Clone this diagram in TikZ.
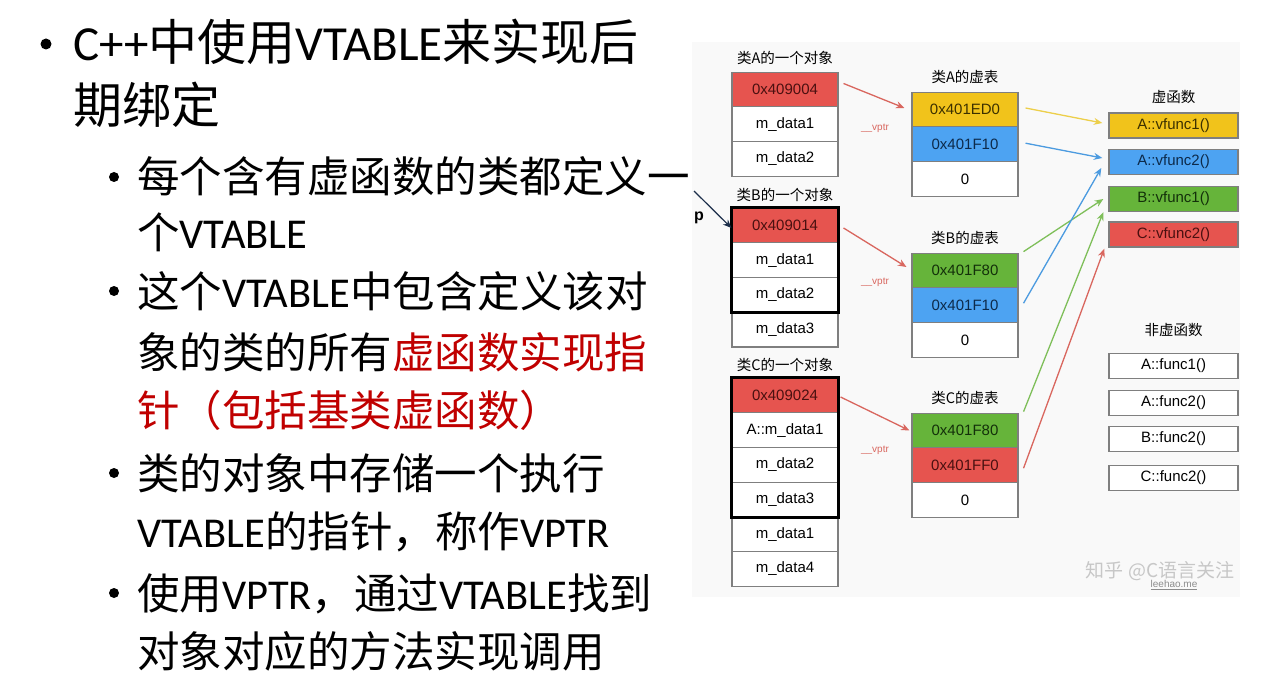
\documentclass[tikz,border=0pt]{standalone}
\usepackage{fontspec}
\usetikzlibrary{arrows.meta}
\setmainfont{Carlito}
\newfontfamily\cjkfont{Noto Sans CJK SC}
\newfontfamily\arialfont{Liberation Sans}
\newcommand{\zhtxt}[1]{{\cjkfont #1}}
\newcommand{\lvlone}{\fontsize{49}{58}\selectfont}
\newcommand{\lvltwo}{\fontsize{42.5}{50}\selectfont}
\newcommand{\cellfont}{\arialfont\fontsize{15}{17}\selectfont}
\newcommand{\capfont}{\cjkfont\fontsize{14.5}{16}\selectfont}

\definecolor{boxgray}{HTML}{7F7F7F}
\definecolor{diagbg}{HTML}{F9F9F9}
\definecolor{cellred}{HTML}{E6544F}
\definecolor{cellyellow}{HTML}{F1C31B}
\definecolor{cellblue}{HTML}{4DA3F2}
\definecolor{cellgreen}{HTML}{66B43A}
\definecolor{txtred}{HTML}{4A1010}
\definecolor{txtyellow}{HTML}{3B3000}
\definecolor{txtblue}{HTML}{0D2A4A}
\definecolor{txtgreen}{HTML}{13300A}
\definecolor{arrred}{HTML}{D9675F}
\definecolor{arryellow}{HTML}{EDCF4A}
\definecolor{arrblue}{HTML}{4C9BE0}
\definecolor{arrgreen}{HTML}{7FBF5A}
\definecolor{arrnavy}{HTML}{1C2E4A}
\definecolor{emred}{HTML}{C00000}

\tikzset{
  line1/.style={anchor=base west, inner sep=0pt, font=\lvlone},
  line2/.style={anchor=base west, inner sep=0pt, font=\lvltwo},
  cell/.style={draw=boxgray, line width=1.1pt, fill=white, minimum width=106pt,
    minimum height=34.7pt, inner sep=0pt, font=\cellfont},
  redcell/.style={cell, fill=cellred, text=txtred},
  yellowcell/.style={cell, fill=cellyellow, text=txtyellow},
  bluecell/.style={cell, fill=cellblue, text=txtblue},
  greencell/.style={cell, fill=cellgreen, text=txtgreen},
  fnbox/.style={draw=boxgray, line width=1.4pt, fill=white, minimum width=129pt,
    minimum height=25pt, inner sep=0pt, font=\cellfont},
  caption/.style={inner sep=0pt, font=\capfont},
  vptrlabel/.style={inner sep=0pt, text=arrred, font=\arialfont\fontsize{10}{12}\selectfont},
  objframe/.style={draw=black, line width=3pt},
  link/.style={line width=1.3pt, -{Stealth[length=8.5pt,width=7pt]}},
}

\begin{document}
\begin{tikzpicture}[x=1pt,y=-1pt]
\useasboundingbox (0,0) rectangle (1280,687);
\fill[white] (0,0) rectangle (1280,687);

% ---------------- bullet text ----------------
\fill (46,44) circle (5.5pt);
\node[line1] (h1) at (73,61) {C++\zhtxt{中使用}VTABLE\zhtxt{来实现后}};
\node[line1] (h2) at (73,124) {\zhtxt{期绑定}};

\fill (114,177) circle (5pt);
\node[line2] (s1a) at (137,193) {\zhtxt{每个含有虚函数的类都定义一}};
\node[line2] (s1b) at (137,249) {\zhtxt{个}VTABLE};

\fill (114,291) circle (5pt);
\node[line2] (s2a) at (137,307) {\zhtxt{这个}VTABLE\zhtxt{中包含定义该对}};
\node[line2] (s2b) at (137,368) {\zhtxt{象的类的所有}\textcolor{emred}{\zhtxt{虚函数实现指}}};
\node[line2, text=emred] (s2c) at (137,426) {\zhtxt{针（包括基类虚函数）}};

\fill (114,473) circle (5pt);
\node[line2] (s3a) at (137,489) {\zhtxt{类的对象中存储一个执行}};
\node[line2] (s3b) at (137,547) {VTABLE\zhtxt{的指针，称作}VPTR};

\fill (114,593) circle (5pt);
\node[line2] (s4a) at (137,609) {\zhtxt{使用}VPTR\zhtxt{，通过}VTABLE\zhtxt{找到}};
\node[line2] (s4b) at (137,667) {\zhtxt{对象对应的方法实现调用}};

% ---------------- memory diagram ----------------
\fill[diagbg] (692,42) rectangle (1240,597);

% objects
\node[caption] (capA) at (785,58) {类A的一个对象};
\node[redcell] (oA1) at (785,89.5) {0x409004};
\node[cell] (oA2) at (785,124.2) {m\_data1};
\node[cell] (oA3) at (785,158.9) {m\_data2};

\node[caption] (capB) at (785,195) {类B的一个对象};
\node[redcell] (oB1) at (785,225.5) {0x409014};
\node[cell] (oB2) at (785,260.2) {m\_data1};
\node[cell] (oB3) at (785,294.9) {m\_data2};
\node[cell] (oB4) at (785,329.6) {m\_data3};
\draw[objframe] (oB1.north west) rectangle (oB3.south east);

\node[caption] (capC) at (785,365) {类C的一个对象};
\node[redcell] (oC1) at (785,395.5) {0x409024};
\node[cell] (oC2) at (785,430.2) {A::m\_data1};
\node[cell] (oC3) at (785,464.9) {m\_data2};
\node[cell] (oC4) at (785,499.6) {m\_data3};
\node[cell] (oC5) at (785,534.3) {m\_data1};
\node[cell] (oC6) at (785,569) {m\_data4};
\draw[objframe] (oC1.north west) rectangle (oC4.south east);

% pointer p
\node[inner sep=0pt, font=\arialfont\bfseries\fontsize{16}{18}\selectfont] (plabel) at (699,218) {p};
\coordinate (pstart) at (694,191);
\draw[link, draw=arrnavy, fill=arrnavy, line width=1.2pt] (pstart) -- ([yshift=-2.5pt]oB1.west);

% virtual tables
\node[caption] (capVA) at (965,77) {类A的虚表};
\node[yellowcell] (vA1) at (965,109.5) {0x401ED0};
\node[bluecell] (vA2) at (965,144.2) {0x401F10};
\node[cell] (vA3) at (965,178.9) {0};

\node[caption] (capVB) at (965,238) {类B的虚表};
\node[greencell] (vB1) at (965,270.5) {0x401F80};
\node[bluecell] (vB2) at (965,305.2) {0x401F10};
\node[cell] (vB3) at (965,339.9) {0};

\node[caption] (capVC) at (965,398) {类C的虚表};
\node[greencell] (vC1) at (965,430.5) {0x401F80};
\node[redcell] (vC2) at (965,465.2) {0x401FF0};
\node[cell] (vC3) at (965,499.9) {0};

% __vptr links
\node[vptrlabel] (vpA) at (875,128) {\_\_vptr};
\node[vptrlabel] (vpB) at (875,282) {\_\_vptr};
\node[vptrlabel] (vpC) at (875,450) {\_\_vptr};
\draw[link, draw=arrred, fill=arrred] ([xshift=5pt,yshift=6pt]oA1.east) -- ([xshift=-7pt,yshift=1.5pt]vA1.west);
\draw[link, draw=arrred, fill=arrred] ([xshift=5pt,yshift=-2.5pt]oB1.east) -- ([xshift=-5pt,yshift=3.5pt]vB1.west);
\draw[link, draw=arrred, fill=arrred] ([xshift=2pt,yshift=-1.5pt]oC1.east) -- ([xshift=-2pt]vC1.west);

% virtual functions
\node[caption] (capF) at (1173.5,97) {虚函数};
\node[fnbox, fill=cellyellow, text=txtyellow] (fA1) at (1173.5,125.5) {A::vfunc1()};
\node[fnbox, fill=cellblue, text=txtblue] (fA2) at (1173.5,162) {A::vfunc2()};
\node[fnbox, fill=cellgreen, text=txtgreen] (fB1) at (1173.5,199) {B::vfunc1()};
\node[fnbox, fill=cellred, text=txtred] (fC2) at (1173.5,234.5) {C::vfunc2()};

% non-virtual functions
\node[caption] (capN) at (1173.5,330) {非虚函数};
\node[fnbox] (nA1) at (1173.5,366) {A::func1()};
\node[fnbox] (nA2) at (1173.5,403) {A::func2()};
\node[fnbox] (nB2) at (1173.5,439) {B::func2()};
\node[fnbox] (nC2) at (1173.5,478) {C::func2()};

% table entries to functions
\draw[link, draw=arryellow, fill=arryellow] ([xshift=7pt,yshift=1.5pt]vA1.east) -- ([xshift=-6pt,yshift=2.5pt]fA1.west);
\draw[link, draw=arrblue, fill=arrblue] ([xshift=7pt,yshift=1pt]vA2.east) -- ([xshift=-6pt,yshift=4pt]fA2.west);
\draw[link, draw=arrgreen, fill=arrgreen] ([xshift=5pt,yshift=1pt]vB1.north east) -- ([xshift=-5pt]fB1.west);
\draw[link, draw=arrblue, fill=arrblue] ([xshift=5pt,yshift=2pt]vB2.east) -- ([xshift=-7pt,yshift=-6pt]fA2.west);
\draw[link, draw=arrgreen, fill=arrgreen] ([xshift=5pt,yshift=1pt]vC1.north east) -- ([xshift=-5pt]fB1.south west);
\draw[link, draw=arrred, fill=arrred] ([xshift=5pt,yshift=-3pt]vC2.east) -- ([xshift=-4pt,yshift=-1pt]fC2.south west);

% watermark
\node[inner sep=0pt, text=black!22, font=\cjkfont\fontsize{19}{21}\selectfont] (wm) at (1160,571) {知乎 @C语言关注};
\node[inner sep=0pt, text=black!45, font=\arialfont\fontsize{10}{12}\selectfont] (site) at (1174,585) {\underline{leehao.me}};
\end{tikzpicture}
\end{document}
